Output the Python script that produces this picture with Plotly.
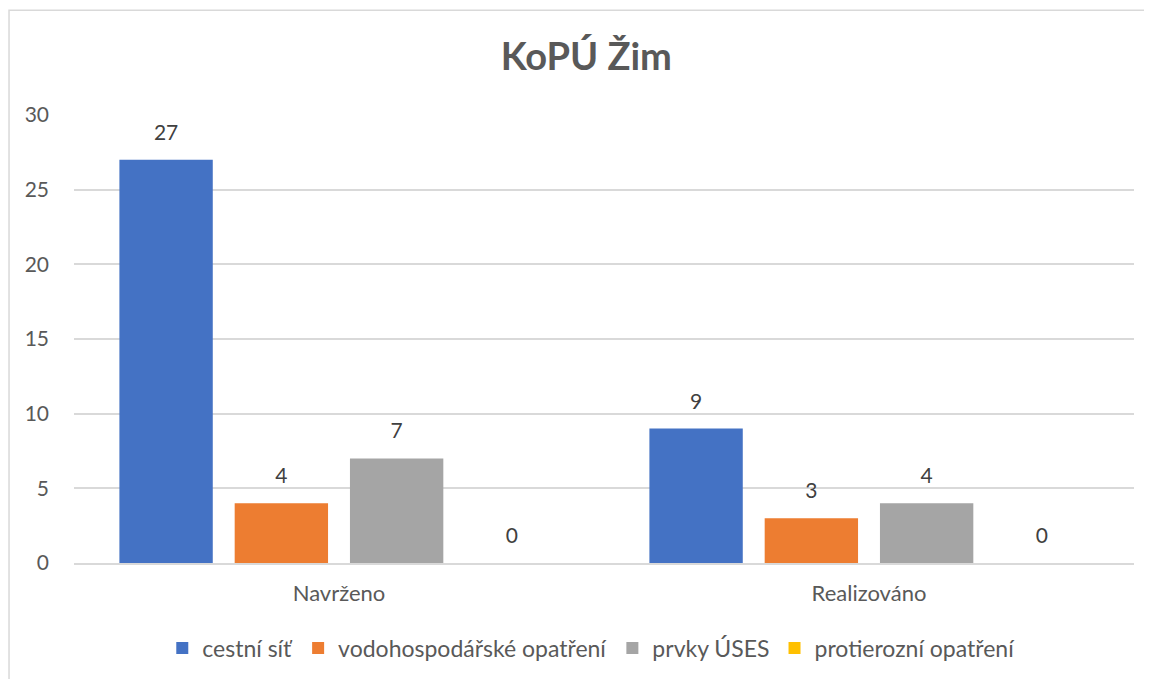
import plotly.graph_objects as go

categories = ["Navrženo", "Realizováno"]
seriesNames = ["cestní síť", "vodohospodářské opatření", "prvky ÚSES", "protierozní opatření"]
cestniSit = [27, 9]
vodohospodarske = [4, 3]
prvkyUses = [7, 4]
protierozni = [0, 0]
yTicks = [0, 5, 10, 15, 20, 25, 30]

colors = ["#4472C4", "#ED7D31", "#A5A5A5", "#FFC000"]
fontName = "Lato, 'Open Sans', sans-serif"

fig = go.Figure()
allSeries = [cestniSit, vodohospodarske, prvkyUses, protierozni]
for i, (name, vals, col) in enumerate(zip(seriesNames, allSeries, colors)):
    fig.add_trace(go.Bar(x=categories,
                         y=vals,
                         name=name,
                         offsetgroup=str(i),
                         marker=dict(color=col, line=dict(width=0))))
# data labels, grouped the same way as the bars
for i, vals in enumerate(allSeries):
    fig.add_trace(go.Scatter(x=categories,
                             y=vals,
                             mode='text+markers',
                             offsetgroup=str(i),
                             marker=dict(size=22, opacity=0),
                             text=[str(v) for v in vals],
                             textposition='top center',
                             textfont=dict(size=21, color='#404040'),
                             showlegend=False,
                             hoverinfo='skip',
                             cliponaxis=False))

# chart border
fig.add_shape(type='rect', xref='paper', yref='paper',
              x0=-0.0613, x1=1.05, y0=-0.4, y1=1.234,
              line=dict(color='#D9D9D9', width=1.5), layer='below')

fig.update_layout(
    width=1152, height=679,
    margin=dict(l=66, r=26, t=107, b=124),
    paper_bgcolor='white', plot_bgcolor='white',
    font=dict(family=fontName, size=21, color='#595959'),
    title=dict(text="<b>KoPÚ Žim</b>", x=0.502, xanchor='center',
               y=1 - 49 / 679, yanchor='middle',
               font=dict(size=38, color='#595959', family=fontName)),
    barmode='group', bargap=0.13, bargroupgap=0.19,
    scattermode='group', scattergap=0.13,
    showlegend=True,
    legend=dict(orientation='h', x=0.488, xanchor='center', y=-0.19, yanchor='middle',
                font=dict(size=23, color='#595959'), itemwidth=30,
                traceorder='normal'),
    xaxis=dict(showgrid=False, showline=True, linecolor='#D9D9D9', linewidth=1.5,
               ticks='', ticklabelstandoff=10, tickfont=dict(size=22, color='#595959')),
    yaxis=dict(range=[0, 30], tickvals=yTicks, showgrid=True, gridcolor='#D9D9D9',
               gridwidth=1.5, zeroline=False, showline=False, ticks='',
               ticklabelstandoff=24, tickfont=dict(size=21, color='#595959')),
)

fig.write_html("out.html")
